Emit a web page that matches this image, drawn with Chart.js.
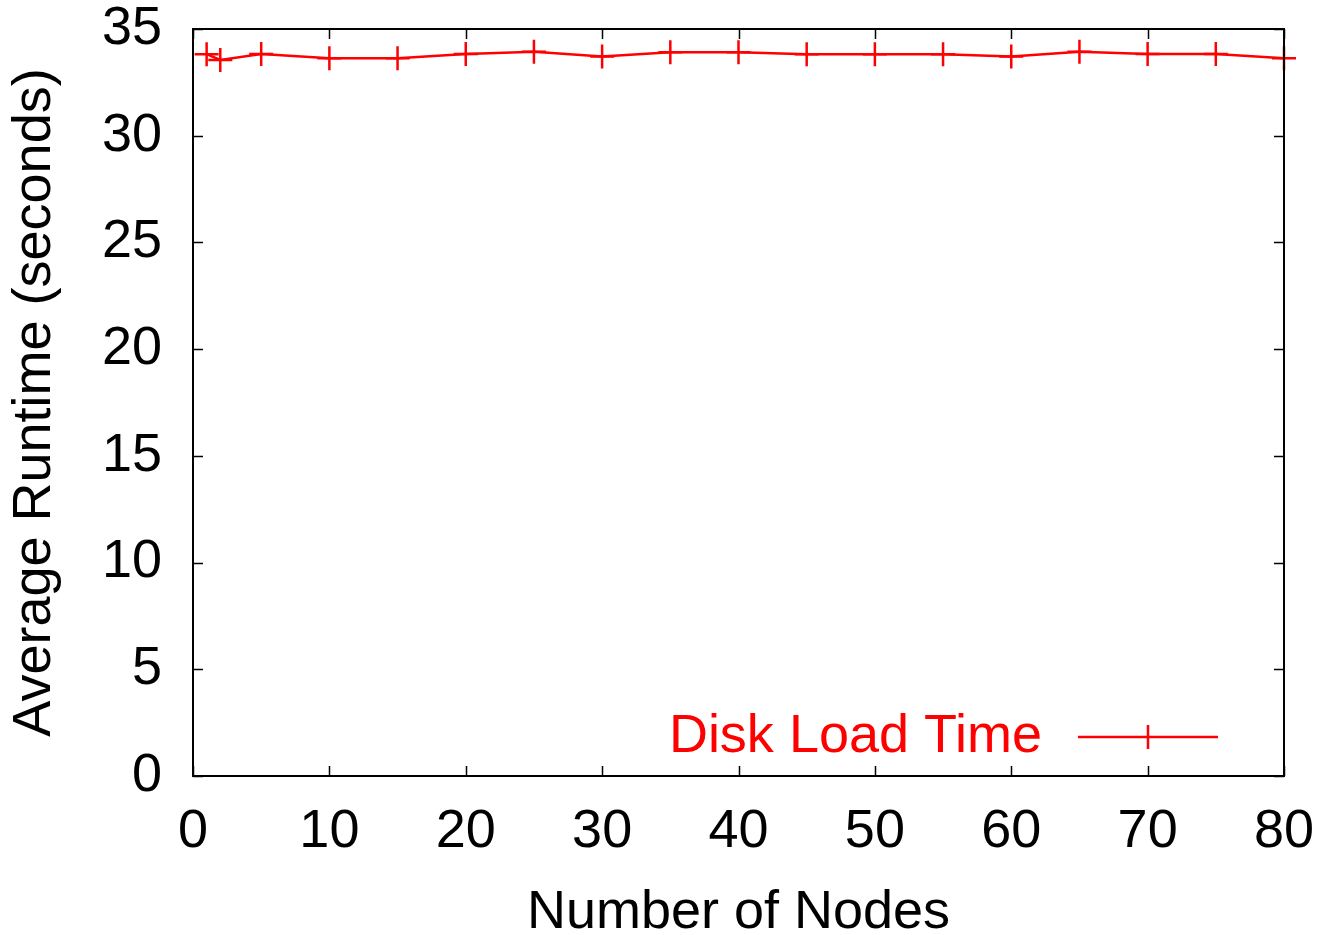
<!DOCTYPE html>
<html>
<head>
<meta charset="utf-8">
<script src="https://cdn.jsdelivr.net/npm/chart.js@4/dist/chart.umd.min.js"></script>
<style>
  html, body { margin: 0; padding: 0; background: #fff; }
  #c { display: block; }
</style>
</head>
<body>
<canvas id="c" width="1317" height="935"></canvas>
<script>
const nodes = [1, 2, 5, 10, 15, 20, 25, 30, 35, 40, 45, 50, 55, 60, 65, 70, 75, 80];
const diskLoadTime = [33.82, 33.55, 33.83, 33.63, 33.63, 33.83, 33.93, 33.71, 33.91, 33.91, 33.82, 33.82, 33.82, 33.71, 33.93, 33.83, 33.83, 33.63];
const seriesLabel = 'Disk Load Time';
const xTitle = 'Number of Nodes';
const yTitle = 'Average Runtime (seconds)';
const xTicks = [0, 10, 20, 30, 40, 50, 60, 70, 80];
const yTicks = [0, 5, 10, 15, 20, 25, 30, 35];

const FONT = 'Liberation Sans, Arial, Helvetica, sans-serif';
const FS = 54;
const RED = '#ff0000';

const frameAndTicks = {
  id: 'frameAndTicks',
  afterDatasetsDraw(chart) {
    const { ctx, chartArea: a, scales: { x, y } } = chart;
    ctx.save();
    ctx.strokeStyle = '#000';
    ctx.lineWidth = 1.5;
    ctx.beginPath();
    const tl = 10;
    xTicks.forEach(v => {
      const px = Math.round(x.getPixelForValue(v)) + 0.5;
      ctx.moveTo(px, a.bottom); ctx.lineTo(px, a.bottom - tl);
      ctx.moveTo(px, a.top); ctx.lineTo(px, a.top + tl);
    });
    yTicks.forEach(v => {
      const py = Math.round(y.getPixelForValue(v)) + 0.5;
      ctx.moveTo(a.left, py); ctx.lineTo(a.left + tl, py);
      ctx.moveTo(a.right, py); ctx.lineTo(a.right - tl, py);
    });
    ctx.stroke();
    ctx.lineWidth = 2;
    ctx.strokeRect(a.left, a.top, a.right - a.left, a.bottom - a.top);
    ctx.restore();
  }
};

const gnuLegend = {
  id: 'gnuLegend',
  afterDatasetsDraw(chart) {
    const { ctx, chartArea: a } = chart;
    const ds = chart.data.datasets[0];
    const yMid = a.bottom - 39;
    const lineEnd = a.right - 66;
    const lineStart = lineEnd - 140;
    const cx = (lineStart + lineEnd) / 2;
    ctx.save();
    ctx.fillStyle = ds.borderColor;
    ctx.font = FS + 'px ' + FONT;
    ctx.textAlign = 'right';
    ctx.textBaseline = 'middle';
    ctx.fillText(ds.label, lineStart - 36, yMid);
    ctx.strokeStyle = ds.borderColor;
    ctx.lineWidth = 2.5;
    ctx.beginPath();
    ctx.moveTo(lineStart, yMid); ctx.lineTo(lineEnd, yMid);
    ctx.moveTo(cx, yMid - 12); ctx.lineTo(cx, yMid + 12);
    ctx.stroke();
    ctx.restore();
  }
};

new Chart(document.getElementById('c'), {
  type: 'line',
  data: {
    datasets: [{
      label: seriesLabel,
      data: nodes.map((n, i) => ({ x: n, y: diskLoadTime[i] })),
      borderColor: RED,
      backgroundColor: RED,
      borderWidth: 2.5,
      tension: 0,
      pointStyle: 'cross',
      pointRadius: 12,
      pointBorderWidth: 2.5,
      pointBorderColor: RED,
      fill: false,
      clip: false
    }]
  },
  options: {
    responsive: false,
    animation: false,
    events: [],
    layout: { padding: { top: 29, right: 33, left: 0, bottom: 0 } },
    plugins: { legend: { display: false }, tooltip: { enabled: false } },
    scales: {
      x: {
        type: 'linear',
        min: 0, max: 80,
        afterFit(s) { s.height = 159; s.paddingLeft = 0; s.paddingRight = 0; },
        afterBuildTicks(s) { s.ticks = xTicks.map(v => ({ value: v })); },
        grid: { display: false, drawTicks: false },
        border: { display: false },
        ticks: { color: '#000', font: { family: FONT, size: FS, lineHeight: 1.2 }, padding: 24, maxRotation: 0, autoSkip: false },
        title: { display: true, text: xTitle, color: '#000', font: { family: FONT, size: FS, lineHeight: 1 }, padding: { top: 0, bottom: -5 } }
      },
      y: {
        type: 'linear',
        min: 0, max: 35,
        afterFit(s) { s.width = 193; s.paddingTop = 0; s.paddingBottom = 0; },
        afterBuildTicks(s) { s.ticks = yTicks.map(v => ({ value: v })); },
        grid: { display: false, drawTicks: false },
        border: { display: false },
        ticks: { color: '#000', font: { family: FONT, size: FS, lineHeight: 1.2 }, padding: 31, autoSkip: false },
        title: { display: true, text: yTitle, color: '#000', font: { family: FONT, size: FS, lineHeight: 1 }, padding: { top: 8, bottom: 0 } }
      }
    }
  },
  plugins: [frameAndTicks, gnuLegend]
});
</script>
</body>
</html>
